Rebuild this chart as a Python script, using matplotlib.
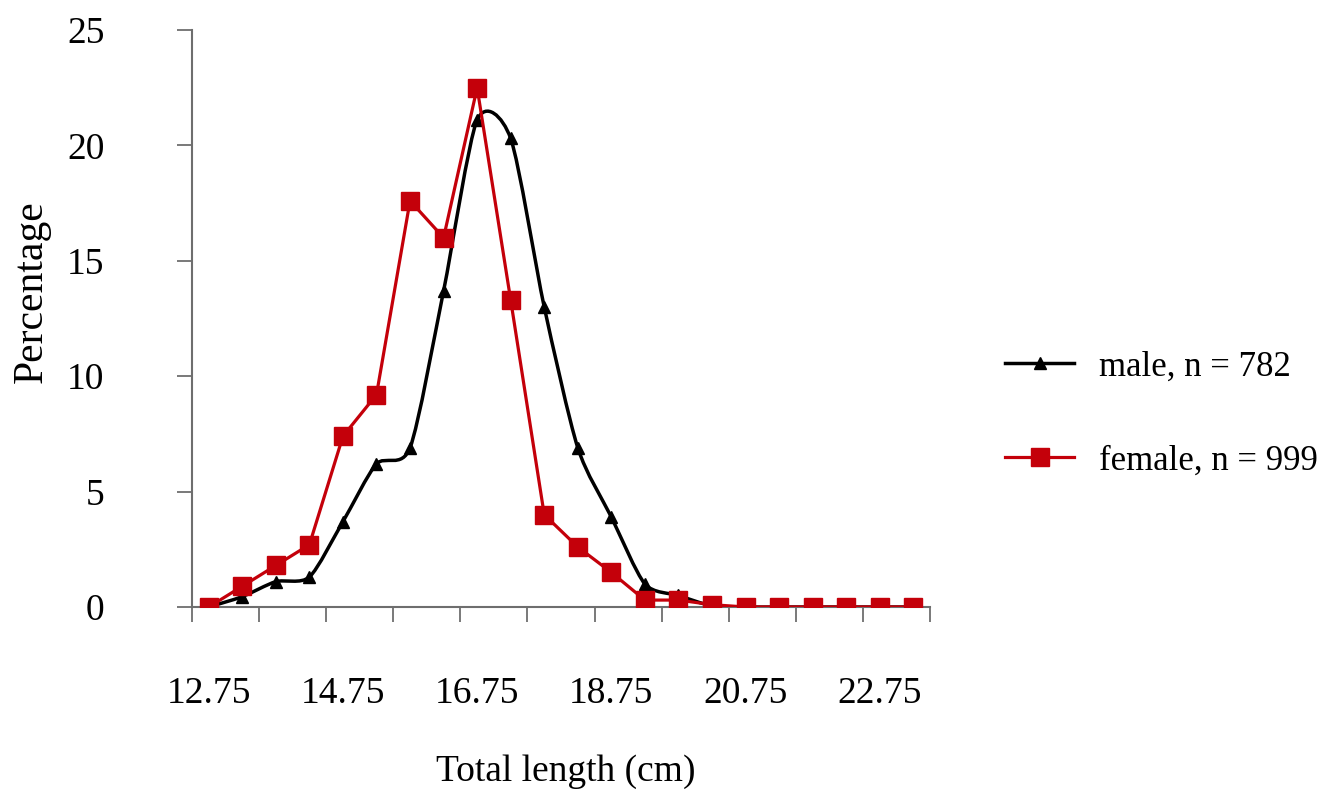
import matplotlib.pyplot as plt
import numpy as np
from matplotlib.path import Path
from matplotlib.patches import PathPatch
from matplotlib.lines import Line2D

plt.rcParams['font.family'] = ['Liberation Serif', 'DejaVu Serif']

# Data
length = [12.75, 13.25, 13.75, 14.25, 14.75, 15.25, 15.75, 16.25, 16.75, 17.25, 17.75,
          18.25, 18.75, 19.25, 19.75, 20.25, 20.75, 21.25, 21.75, 22.25, 22.75, 23.25]
male = [0.0, 0.45, 1.1, 1.3, 3.7, 6.2, 6.9, 13.7, 21.1, 20.3, 13.0,
        6.9, 3.9, 1.0, 0.5, 0.05, 0.0, 0.0, 0.0, 0.0, 0.0, 0.0]
female = [0.0, 0.9, 1.8, 2.7, 7.4, 9.2, 17.6, 16.0, 22.5, 13.3, 4.0,
          2.6, 1.5, 0.3, 0.3, 0.1, 0.0, 0.0, 0.0, 0.0, 0.0, 0.0]
xtick_labels = ['12.75', '14.75', '16.75', '18.75', '20.75', '22.75']
male_label = 'male, n = 782'
female_label = 'female, n = 999'

red = '#c4000a'
axis_col = '#6e6e6e'

fig = plt.figure(figsize=(13.24, 7.98), dpi=100)
ax = fig.add_axes([192 / 1324, 1 - 607 / 798, (930 - 192) / 1324, (607 - 30) / 798])


def smooth_path(xs, ys, k=8):
    # smoothed line like a spreadsheet chart: cubic Bezier through the points
    pts = np.column_stack([xs, ys])
    verts = [pts[0]]
    codes = [Path.MOVETO]
    n = len(pts)
    for i in range(n - 1):
        p0 = pts[i - 1] if i > 0 else pts[i]
        p1, p2 = pts[i], pts[i + 1]
        p3 = pts[i + 2] if i + 2 < n else pts[i + 1]
        c1 = p1 + (p2 - p0) / k
        c2 = p2 - (p3 - p1) / k
        verts += [c1, c2, p2]
        codes += [Path.CURVE4] * 3
    return Path(verts, codes)


ax.add_patch(PathPatch(smooth_path(length, male), fill=False, edgecolor='black',
                       linewidth=2.5, zorder=2))
ax.plot(length, male, linestyle='none', marker='^', color='black', markersize=9, zorder=3)
ax.plot(length, female, color=red, linewidth=2.3, marker='s', markersize=13,
        markerfacecolor=red, markeredgecolor=red, zorder=4)

ax.set_xlim(12.5, 23.5)
ax.set_ylim(0, 25)

# x axis: tick marks between every second category, labels every fourth
ax.set_xticks(length[::4])
ax.set_xticklabels(xtick_labels)
ax.set_xticks(np.arange(12.5, 23.6, 1.0), minor=True)
ax.tick_params(axis='x', which='major', length=0, pad=50, labelsize=27)
ax.tick_params(axis='x', which='minor', length=11, width=1.3, color=axis_col, direction='out')

ax.set_yticks([0, 5, 10, 15, 20, 25])
ax.tick_params(axis='y', which='major', length=11, width=1.3, color=axis_col,
               direction='out', pad=52, labelsize=27)

for s in ['top', 'right']:
    ax.spines[s].set_visible(False)
for s in ['left', 'bottom']:
    ax.spines[s].set_color(axis_col)
    ax.spines[s].set_linewidth(1.5)

ax.set_xlabel('Total length (cm)', fontsize=27)
ax.xaxis.set_label_coords(0.507, -0.255)
ax.set_ylabel('Percentage', fontsize=30)
ax.yaxis.set_label_coords(-0.192, 0.546)

handles = [
    Line2D([0], [0], color='black', linewidth=2.5, marker='^', markersize=9),
    Line2D([0], [0], color=red, linewidth=2.3, marker='s', markersize=13),
]
fig.legend(handles, [male_label, female_label], loc='center left',
           bbox_to_anchor=(1005 / 1324, 1 - 414 / 798), frameon=False,
           fontsize=25, handlelength=2.0, handletextpad=0.72, labelspacing=1.75,
           borderpad=0, borderaxespad=0)

fig.savefig('out.png', dpi=100)
